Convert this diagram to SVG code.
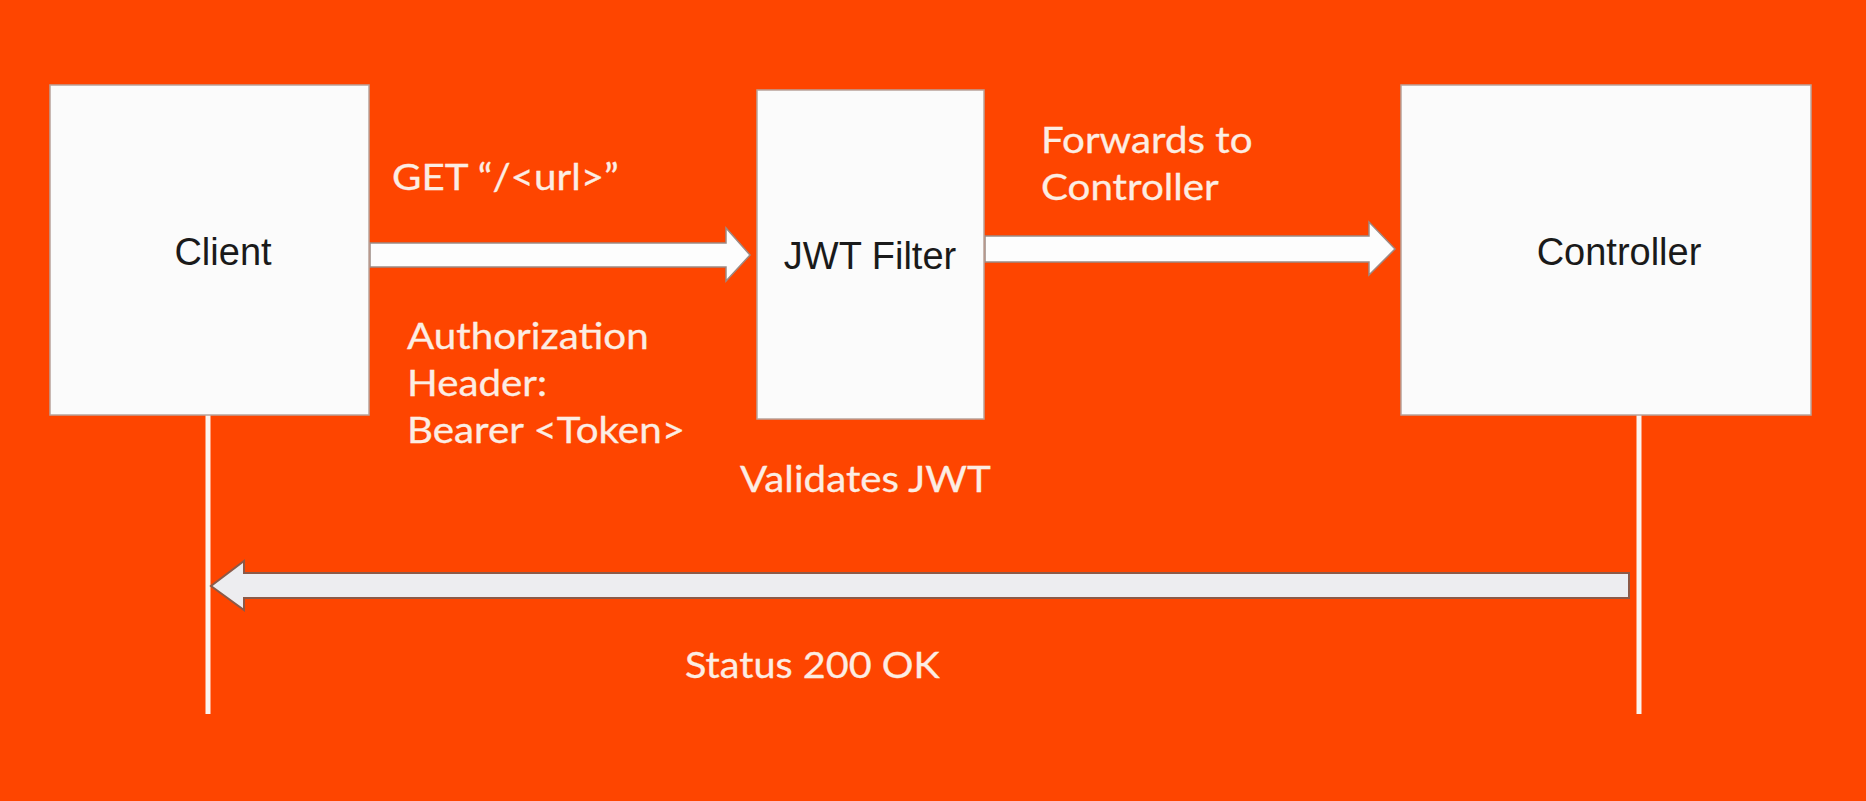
<svg xmlns="http://www.w3.org/2000/svg" width="1866" height="801" viewBox="0 0 1866 801">
<defs>
<style>
.box{fill:#FBFBFB;stroke:#B9A39A;stroke-width:1.5}
.nt{font-family:"Liberation Sans",Arial,sans-serif;font-size:38px;fill:#1A1A1A;text-anchor:middle}
.lb{font-family:Lato,"Open Sans",sans-serif;font-size:36px;fill:#FCEDE3;stroke:#FCEDE3;stroke-width:0.3}
.arw{fill:#FDFDFD;stroke:#9C8A84;stroke-width:1.5}
.ret{fill:#EDEDF0;stroke:#8C5A48;stroke-width:2}
.life{stroke:#FBF3EE;stroke-width:5}
</style>
</defs>
<rect width="1866" height="801" fill="#FE4500"/>
<g id="connectors">
<line class="life" x1="208" y1="415" x2="208" y2="714"/>
<line class="life" x1="1639" y1="415" x2="1639" y2="714"/>
<polygon class="arw" points="370,243 726,243 726,228 750,255 726,281 726,267 370,267"/>
<polygon class="arw" points="985,236 1369,236 1369,222 1395,249 1369,275 1369,262 985,262"/>
<polygon class="ret" points="1629,573 244,573 244,561 211,586 244,610 244,598 1629,598"/>
</g>
<g id="client">
<rect class="box" x="50" y="85" width="319" height="330"/>
<text class="nt" x="223" y="265">Client</text>
</g>
<g id="jwt-filter">
<rect class="box" x="757" y="90" width="227" height="329"/>
<text class="nt" x="870" y="269">JWT Filter</text>
</g>
<g id="controller">
<rect class="box" x="1401" y="85" width="410" height="330"/>
<text class="nt" x="1619" y="265">Controller</text>
</g>
<g id="labels">
<text class="lb" transform="translate(392 190) scale(1.12 1)">GET “/&lt;url&gt;”</text>
<text class="lb" transform="translate(407 349) scale(1.12 1)">Authorization</text>
<text class="lb" transform="translate(407 396) scale(1.12 1)">Header:</text>
<text class="lb" transform="translate(407 443) scale(1.12 1)">Bearer &lt;Token&gt;</text>
<text class="lb" transform="translate(1041 153) scale(1.12 1)">Forwards to</text>
<text class="lb" transform="translate(1041 200) scale(1.12 1)">Controller</text>
<text class="lb" transform="translate(740 492) scale(1.12 1)">Validates JWT</text>
<text class="lb" transform="translate(685 678) scale(1.1 1)">Status 200 OK</text>
</g>
</svg>
